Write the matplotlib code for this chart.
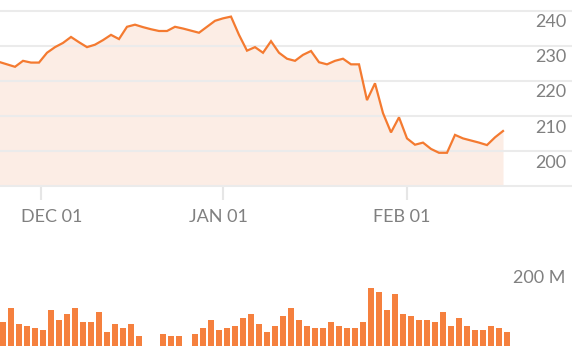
import numpy as np
import matplotlib.pyplot as plt

# closing price, one value per trading slot
price = [225.5, 224.8, 224.1, 225.8, 225.3, 225.3, 228.1, 229.7, 230.9, 232.6,
         231.1, 229.7, 230.4, 231.7, 233.2, 232.0, 235.5, 236.1, 235.4, 234.8,
         234.3, 234.3, 235.5, 235.0, 234.4, 233.8, 235.5, 237.2, 237.9, 238.4,
         233.2, 228.7, 229.7, 228.1, 231.4, 228.1, 226.4, 225.8, 227.5, 228.6,
         225.4, 224.8, 225.8, 226.4, 224.8, 224.8, 214.6, 219.4, 210.9, 205.4,
         209.7, 203.7, 201.9, 202.5, 200.7, 199.6, 199.6, 204.7, 203.7, 203.1,
         202.5, 201.8, 204.0, 205.8]

# volume in millions (nan = no bar)
nan = np.nan
volume = [61, 96, 56, 51, 46, 40, 91, 66, 81, 96, 61, 61, 86, 35, 56, 46, 56, 25,
          nan, nan, 30, 25, 25, nan, 30, 46, 66, 40, 46, 51, 71, 81, 56, 35, 51,
          76, 96, 66, 51, 46, 46, 61, 51, 46, 46, 61, 147, 137, 91, 132, 81, 76,
          66, 66, 61, 86, 51, 71, 51, 40, 40, 51, 46, 35]

price_ticks = [200, 210, 220, 230, 240]
date_ticks = [5.25, 28, 51]          # slot positions of month starts
date_label_pos = [6.6, 27.4, 50.3]
date_labels = ["DEC 01", "JAN 01", "FEB 01"]

orange = "#f47a30"
fill = "#fcede5"
grid = "#ebebeb"
text_col = "#808080"

plt.rcParams["font.family"] = ["Lato", "DejaVu Sans"]

fig = plt.figure(figsize=(5.72, 3.56), dpi=100)

# price panel
ax = fig.add_axes([0, 1 - 186.7 / 356, 1, 186.7 / 356])
x = np.arange(len(price))
ax.fill_between(x, price, 190, color=fill, lw=0, zorder=1)
for v in [190] + price_ticks:
    ax.axhline(v, color=grid, lw=1.5, zorder=2, clip_on=False)
ax.plot(x, price, color=orange, lw=1.6, zorder=3, solid_joinstyle="miter")
ax.set_xlim(0.125, 71.625)
ax.set_ylim(189.94, 243.13)
for s in ax.spines.values():
    s.set_visible(False)
ax.set_yticks([])
ax.set_xticks(date_ticks)
ax.set_xticklabels([])
ax.tick_params(axis="x", length=9.6, width=1.5, color="#e6e6e6", direction="out")

for v in price_ticks:
    ax.annotate(str(v), xy=(1, v), xycoords=("axes fraction", "data"),
                xytext=(-3.8, -8.1), textcoords="offset points",
                ha="right", va="center", fontsize=13, color=text_col)
for p, lab in zip(date_label_pos, date_labels):
    ax.annotate(lab, xy=(p, 0), xycoords=("data", "axes fraction"),
                xytext=(0, -21.6), textcoords="offset points",
                ha="center", va="center", fontsize=13, color=text_col)

# volume panel
vax = fig.add_axes([0, 1 - 346 / 356, 1, 86 / 356])
vx = np.arange(len(volume)) + 0.5
vax.bar(vx, volume, width=0.75, color="#f5803e", lw=0)
vax.set_xlim(0.125, 71.625)
vax.set_ylim(0, 217.5)
vax.axis("off")
vax.annotate("200 M", xy=(1, 200), xycoords=("axes fraction", "data"),
             xytext=(-4.8, -7.9), textcoords="offset points",
             ha="right", va="center", fontsize=13, color=text_col)

fig.savefig("out.png", dpi=100)
